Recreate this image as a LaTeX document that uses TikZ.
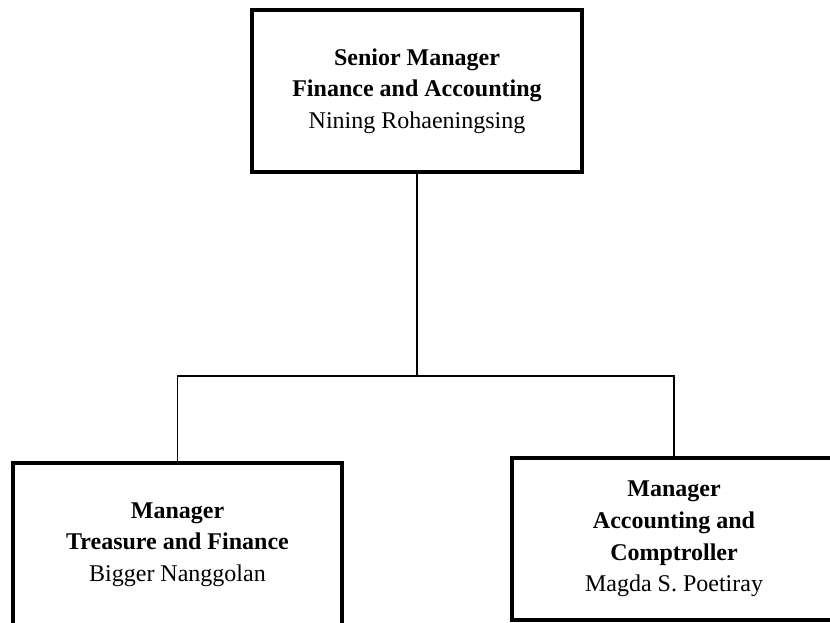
\documentclass[tikz,border=0pt]{standalone}
\usepackage{fontspec}
\setmainfont{Liberation Serif}
\usepackage{tikz}

\begin{document}
\begin{tikzpicture}
	[x=0.75pt,y=-0.75pt,%%%%%%%%%%%%%%%%%%%%%%%%%%%%%%
	post/.style={rectangle,draw=black,line width=3pt,inner sep=0pt,align=center,
		font=\fontsize{18}{23.8}\selectfont},
	link/.style={draw=black,line width=1.2pt},
	]%%%%%%%%%%%%%%%%%%%%%%%%%%%%%%
	
	\useasboundingbox (0,0) rectangle (830,622);
	
	\node[post,minimum width=247.5pt,minimum height=121.5pt] (senior) at (417,91)
		{\textbf{Senior Manager}\\\textbf{Finance and Accounting}\\Nining Rohaeningsing};
	\node[post,minimum width=246.75pt,minimum height=122.25pt] (treasure) at (177.5,544.5)
		{\textbf{Manager}\\\textbf{Treasure and Finance}\\Bigger Nanggolan};
	\node[post,minimum width=243pt,minimum height=121.5pt] (comptroller) at (674,539)
		{\textbf{Manager}\\\textbf{Accounting and}\\\textbf{Comptroller}\\Magda S. Poetiray};
	
	\coordinate (bus) at (417,376);
	\draw[link] (senior.south) -- (bus);
	\draw[link] (treasure.north) |- (bus) -| (comptroller.north);
	
	\end{tikzpicture}
\end{document}
